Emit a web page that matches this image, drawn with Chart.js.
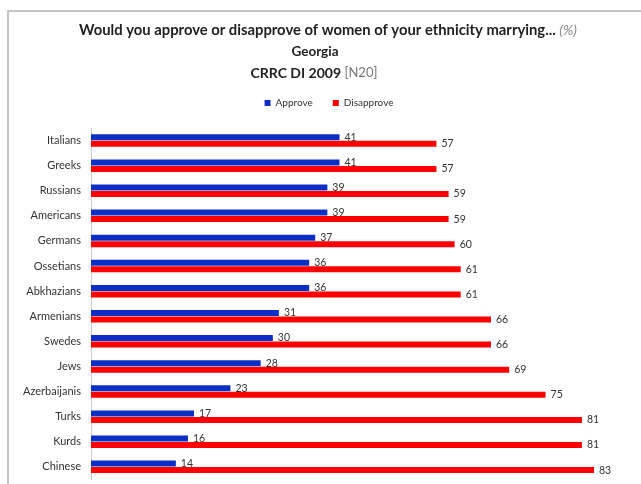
<!DOCTYPE html>
<html>
<head>
<meta charset="utf-8">
<script src="https://cdn.jsdelivr.net/npm/chart.js"></script>
<style>
  html, body { margin: 0; padding: 0; background: #fff; }
  #wrap { position: relative; width: 641px; height: 484px; overflow: hidden; }
  #frame { position: absolute; left: 7px; top: 10px; width: 700px; height: 600px;
           border: 2px solid #c4c4c4; box-sizing: border-box; }
  canvas { position: absolute; left: 0; top: 0; }
</style>
</head>
<body>
<div id="wrap">
  <div id="frame"></div>
  <canvas id="chart" width="641" height="496"></canvas>
</div>
<script>
const groups = ['Italians', 'Greeks', 'Russians', 'Americans', 'Germans', 'Ossetians', 'Abkhazians',
                'Armenians', 'Swedes', 'Jews', 'Azerbaijanis', 'Turks', 'Kurds', 'Chinese'];
const approve = [41, 41, 39, 39, 37, 36, 36, 31, 30, 28, 23, 17, 16, 14];
const disapprove = [57, 57, 59, 59, 60, 61, 61, 66, 66, 69, 75, 81, 81, 83];

const FONT = 'Lato, "Liberation Sans", sans-serif';

// title lines, each made of pieces with their own style
const titleLines = [
  { y: 30, cx: 328, parts: [
    { text: 'Would you approve or disapprove of women of your ethnicity marrying... ', font: 'bold 14.8px ' + FONT, color: '#222' },
    { text: '(%)', font: 'italic 14px ' + FONT, color: '#888' }] },
  { y: 52, cx: 315, parts: [
    { text: 'Georgia', font: 'bold 13.5px ' + FONT, color: '#222' }] },
  { y: 73, cx: 314, parts: [
    { text: 'CRRC DI 2009 ', font: 'bold 14px ' + FONT, color: '#222' },
    { text: '[N20]', font: '13px ' + FONT, color: '#777' }] }
];

const titlePlugin = {
  id: 'titleLines',
  afterDraw(chart) {
    const ctx = chart.ctx;
    ctx.save();
    ctx.textBaseline = 'middle';
    ctx.textAlign = 'left';
    titleLines.forEach(line => {
      let w = 0;
      line.parts.forEach(p => { ctx.font = p.font; w += ctx.measureText(p.text).width; });
      let x = line.cx - w / 2;
      line.parts.forEach(p => {
        ctx.font = p.font;
        ctx.fillStyle = p.color;
        ctx.fillText(p.text, x, line.y);
        x += ctx.measureText(p.text).width;
      });
    });
    ctx.restore();
  }
};

// extra room under the legend
const legendGap = {
  id: 'legendGap',
  beforeInit(chart) {
    const fit = chart.legend.fit;
    chart.legend.fit = function () {
      fit.bind(chart.legend)();
      this.height += 10;
    };
  }
};

const valueLabels = {
  id: 'valueLabels',
  afterDatasetsDraw(chart) {
    const ctx = chart.ctx;
    ctx.save();
    ctx.font = '10.5px ' + FONT;
    ctx.fillStyle = '#333';
    ctx.textAlign = 'left';
    ctx.textBaseline = 'middle';
    chart.data.datasets.forEach((ds, i) => {
      chart.getDatasetMeta(i).data.forEach((bar, j) => {
        ctx.fillText(ds.data[j], bar.x + 5, bar.y);
      });
    });
    ctx.restore();
  }
};

new Chart(document.getElementById('chart'), {
  type: 'bar',
  data: {
    labels: groups,
    datasets: [{
      label: 'Approve',
      data: approve,
      backgroundColor: '#0b2fc4'
    }, {
      label: 'Disapprove',
      data: disapprove,
      backgroundColor: '#ff0000'
    }]
  },
  options: {
    indexAxis: 'y',
    responsive: false,
    animation: false,
    maintainAspectRatio: false,
    layout: { padding: { top: 78, bottom: 0, left: 17, right: 0 } },
    datasets: { bar: { categoryPercentage: 0.52, barPercentage: 0.92 } },
    plugins: {
      legend: {
        position: 'top',
        labels: { boxWidth: 6, boxHeight: 6, font: { size: 10, family: FONT }, color: '#333', padding: 20 }
      },
      tooltip: { enabled: false }
    },
    scales: {
      x: {
        display: false,
        min: 0,
        max: 90.75
      },
      y: {
        afterFit(scale) { scale.width = 74; },
        grid: { display: false, drawTicks: false },
        border: { color: '#d0d0d0', width: 1 },
        ticks: { font: { size: 11, family: FONT }, color: '#333', padding: 10 }
      }
    }
  },
  plugins: [titlePlugin, legendGap, valueLabels]
});
</script>
</body>
</html>
